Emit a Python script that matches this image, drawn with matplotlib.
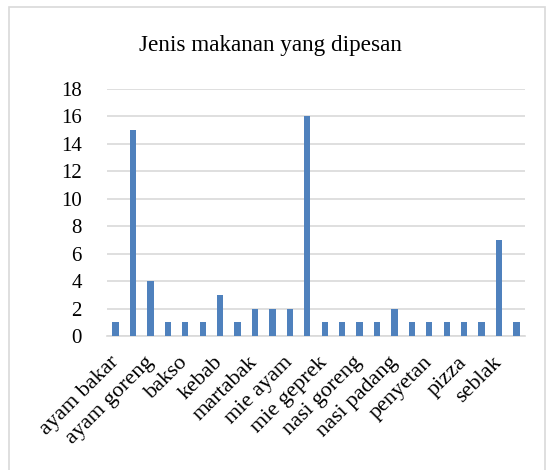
import numpy as np
import matplotlib.pyplot as plt
from matplotlib.patches import Rectangle

plt.rcParams['font.family'] = ['Liberation Serif', 'DejaVu Serif']

# 24 categories, only every other label is printed on the axis
values = [1, 15, 4, 1, 1, 1, 3, 1, 2, 2, 2, 16, 1, 1, 1, 1, 2, 1, 1, 1, 1, 1, 7, 1]
shown_labels = ["ayam bakar", "ayam goreng", "bakso", "kebab", "martabak", "mie ayam",
                "mie geprek", "nasi goreng", "nasi padang", "penyetan", "pizza", "seblak"]
title = "Jenis makanan yang dipesan"

fig = plt.figure(figsize=(5.54, 4.70), dpi=100)
ax = fig.add_axes([0.193, 0.285, 0.755, 0.526])

x = np.arange(len(values))
ax.bar(x, values, width=0.36, color='#4F81BD', zorder=3)

ax.set_xlim(-0.5, len(values) - 0.5)
ax.set_ylim(0, 18)
ax.set_yticks(range(0, 19, 2))
ax.yaxis.grid(True, color='#D9D9D9', linewidth=1.2, zorder=0)
ax.set_xticks(x[::2])
ax.set_xticklabels(shown_labels, rotation=45, ha='right', va='center',
                   rotation_mode='anchor', fontsize=16)
ax.tick_params(axis='y', labelsize=15, length=0, pad=18)
ax.tick_params(axis='x', length=0, pad=17)
for s in ['top', 'right', 'left']:
    ax.spines[s].set_visible(False)
ax.spines['bottom'].set_color('#D9D9D9')
ax.spines['bottom'].set_linewidth(1.2)

fig.text(0.488, 0.904, title, ha='center', va='center', fontsize=16.7)

# light frame around the chart
fig.patches.append(Rectangle((9 / 554, -0.05), 536 / 554, 1 - 7 / 470 + 0.05,
                             transform=fig.transFigure, fill=False,
                             edgecolor='#D9D9D9', linewidth=1.2))

fig.savefig('out.png', dpi=100)
